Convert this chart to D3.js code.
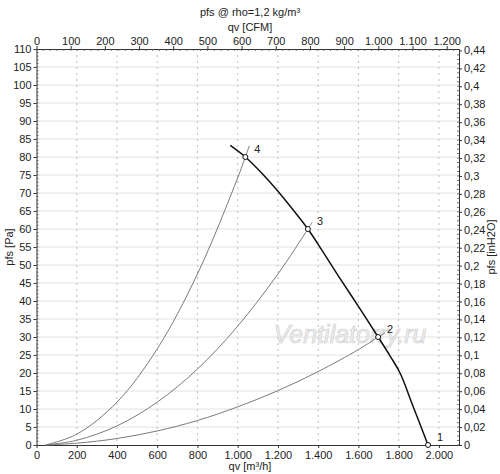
<!DOCTYPE html>
<html><head><meta charset="utf-8">
<script src="https://cdn.jsdelivr.net/npm/d3@7"></script>
<style>
body{margin:0;background:#fff;}
svg{display:block;font-family:"Liberation Sans",Arial,sans-serif;}
</style></head>
<body><svg id="c" width="500" height="474"></svg>
<script>
// ---- data ----
const fanQ = [963, 1038, 1120, 1200, 1280, 1349, 1420, 1500, 1600, 1698, 1760, 1807, 1870, 1946];
const fanP = [83.2, 80, 75.5, 70.5, 65, 60, 54, 47, 38.5, 30, 24.5, 20, 11, 0];

const sys4Q = [45, 200, 400, 600, 800, 1000, 1038, 1058];
const sys4P = [0, 3.0, 11.9, 26.7, 47.5, 74.2, 80, 83.1];
const sys3Q = [45, 200, 400, 600, 800, 1000, 1200, 1349, 1370];
const sys3P = [0, 1.3, 5.3, 11.9, 21.1, 33, 47.5, 60, 61.9];
const sys2Q = [45, 200, 400, 600, 800, 1000, 1200, 1400, 1600, 1698, 1733];
const sys2P = [0, 0.5, 1.8, 3.9, 6.8, 10.6, 15.1, 20.4, 26.5, 30, 31.2];

const opLabels = ["1", "2", "3", "4"];
const opQ = [1946, 1698, 1349, 1038];
const opP = [0, 30, 60, 80];

const qTicks = [0, 200, 400, 600, 800, 1000, 1200, 1400, 1600, 1800, 2000];
const cfmTicks = [0, 100, 200, 300, 400, 500, 600, 700, 800, 900, 1000, 1100, 1200];
const paTicks = d3.range(0, 111, 5);
const inTicks = d3.range(0, 0.4401, 0.02);

const qMax = 2100, pMax = 110;
const CFM_PER_M3H = 0.588578, PA_PER_INH2O = 249.089;

// ---- layout ----
const svg = d3.select("#c");
const L = 36.5, R = 459, T = 49, B = 445;
const x = d3.scaleLinear().domain([0, qMax]).range([L, R]);
const y = d3.scaleLinear().domain([0, pMax]).range([B, T]);
const xTop = d3.scaleLinear().domain([0, qMax * CFM_PER_M3H]).range([L, R]);
const yRight = d3.scaleLinear().domain([0, pMax / PA_PER_INH2O]).range([B, T]);

const loc = d3.formatLocale({decimal: ",", thousands: ".", grouping: [3], currency: ["", ""]});
const fmtQ = loc.format(",d");
const fmtIn = v => String(+v.toFixed(2)).replace(".", ",");

// grid
svg.append("g").selectAll("line").data(paTicks.filter(d => d > 0 && d < 110)).join("line")
  .attr("x1", L).attr("x2", R).attr("y1", d => y(d)).attr("y2", d => y(d))
  .attr("stroke", "#e2e2e2").attr("stroke-width", 1);
svg.append("g").selectAll("line").data(qTicks.filter(d => d > 0)).join("line")
  .attr("x1", d => x(d)).attr("x2", d => x(d)).attr("y1", T).attr("y2", B)
  .attr("stroke", "#bdbdbd").attr("stroke-width", 1).attr("stroke-dasharray", "2,4");

// axes
const axFont = g => g.selectAll("text").attr("font-size", 11).attr("fill", "#222")
  .attr("font-family", '"Liberation Sans",Arial,sans-serif');
const axStyle = g => { g.select(".domain").attr("stroke", "#333"); g.selectAll(".tick line").attr("stroke", "#333"); axFont(g); };

svg.append("g").attr("transform", `translate(0,${B})`)
  .call(d3.axisBottom(x).tickValues(qTicks).tickFormat(fmtQ).tickSize(3).tickSizeOuter(0).tickPadding(3))
  .call(axStyle);
svg.append("g").attr("transform", `translate(0,${T})`)
  .call(d3.axisTop(xTop).tickValues(cfmTicks).tickFormat(fmtQ).tickSize(3).tickSizeOuter(0).tickPadding(1))
  .call(axStyle);
svg.append("g").attr("transform", `translate(${L},0)`)
  .call(d3.axisLeft(y).tickValues(paTicks).tickSize(3).tickSizeOuter(0).tickPadding(2))
  .call(axStyle);
svg.append("g").attr("transform", `translate(${R},0)`)
  .call(d3.axisRight(yRight).tickValues(inTicks).tickFormat(fmtIn).tickSize(3).tickSizeOuter(0).tickPadding(2))
  .call(axStyle);

// minor ticks
const minor = (vals, f) => svg.append("g").selectAll("line").data(vals).join("line").each(f).attr("stroke", "#555").attr("stroke-width", 0.8);
minor(d3.range(0, 110, 1), function(d){ d3.select(this).attr("x1", L).attr("x2", L + 2).attr("y1", y(d)).attr("y2", y(d)); });
minor(d3.range(0, 0.44, 0.005), function(d){ d3.select(this).attr("x1", R - 2).attr("x2", R).attr("y1", yRight(d)).attr("y2", yRight(d)); });
minor(d3.range(0, 1236, 20), function(d){ d3.select(this).attr("x1", xTop(d)).attr("x2", xTop(d)).attr("y1", T).attr("y2", T + 2); });

// watermark
svg.append("text").attr("x", 350).attr("y", 343).attr("text-anchor", "middle")
  .attr("font-size", 25).attr("font-style", "italic").attr("fill", "#f1f1f1").attr("stroke", "#cfcfcf").attr("stroke-width", 0.7)
  .text("Ventilatorry.ru");

// curves
const zip = (a, b) => a.map((v, i) => [v, b[i]]);
const line = d3.line().x(d => x(d[0])).y(d => y(d[1])).curve(d3.curveCatmullRom);
[[sys4Q, sys4P], [sys3Q, sys3P], [sys2Q, sys2P]].forEach(([q, p]) => {
  svg.append("path").attr("d", line(zip(q, p))).attr("fill", "none").attr("stroke", "#7a7a7a").attr("stroke-width", 1);
});
svg.append("path").attr("d", line(zip(fanQ, fanP)))
  .attr("fill", "none").attr("stroke", "#111").attr("stroke-width", 1.5);

// operating points
const ops = opLabels.map((l, i) => ({l, q: opQ[i], p: opP[i]}));
svg.append("g").selectAll("circle").data(ops).join("circle")
  .attr("cx", d => x(d.q)).attr("cy", d => y(d.p)).attr("r", 2.5)
  .attr("fill", "#fff").attr("stroke", "#111").attr("stroke-width", 1);
svg.append("g").selectAll("text").data(ops).join("text")
  .attr("x", d => x(d.q) + 9).attr("y", d => y(d.p) - 4).attr("font-size", 11).attr("fill", "#222")
  .text(d => d.l);

// titles
svg.append("text").attr("x", 250).attr("y", 16).attr("text-anchor", "middle").attr("font-size", 11).attr("fill", "#222").text("pfs @ rho=1,2 kg/m³");
svg.append("text").attr("x", 250).attr("y", 31).attr("text-anchor", "middle").attr("font-size", 11).attr("fill", "#222").text("qv [CFM]");
svg.append("text").attr("x", 250).attr("y", 470).attr("text-anchor", "middle").attr("font-size", 11).attr("fill", "#222").text("qv [m³/h]");
svg.append("text").attr("transform", `translate(13,${(T + B) / 2}) rotate(-90)`).attr("text-anchor", "middle").attr("font-size", 11).attr("fill", "#222").text("pfs [Pa]");
svg.append("text").attr("transform", `translate(495,${(T + B) / 2}) rotate(-90)`).attr("text-anchor", "middle").attr("font-size", 11).attr("fill", "#222").text("pfs [inH2O]");
</script></body></html>
